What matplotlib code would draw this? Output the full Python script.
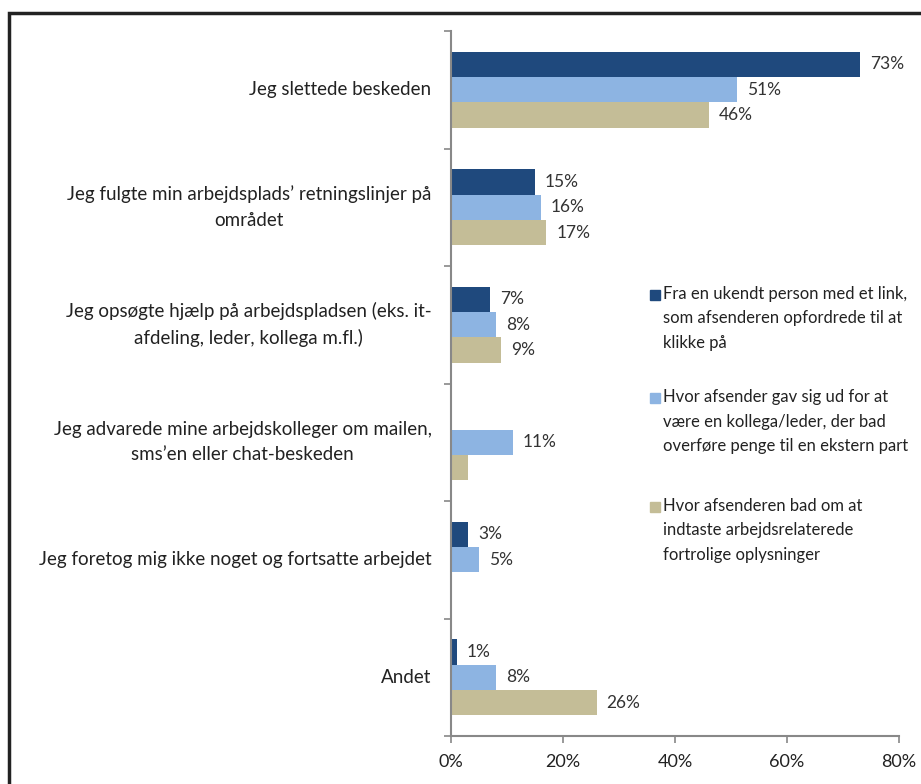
import numpy as np
import matplotlib.pyplot as plt
from matplotlib.patches import Rectangle

# Categories (top to bottom) and the three series in percent
categories = [
    "Jeg slettede beskeden",
    "Jeg fulgte min arbejdsplads\u2019 retningslinjer på\nområdet",
    "Jeg opsøgte hjælp på arbejdspladsen (eks. it-\nafdeling, leder, kollega m.fl.)",
    "Jeg advarede mine arbejdskolleger om mailen,\nsms\u2019en eller chat-beskeden",
    "Jeg foretog mig ikke noget og fortsatte arbejdet",
    "Andet",
]
series_names = [
    "Fra en ukendt person med et link,\nsom afsenderen opfordrede til at\nklikke på",
    "Hvor afsender gav sig ud for at\nvære en kollega/leder, der bad\noverføre penge til en ekstern part",
    "Hvor afsenderen bad om at\nindtaste arbejdsrelaterede\nfortrolige oplysninger",
]
link_vals = [73, 15, 7, 0, 3, 1]
leader_vals = [51, 16, 8, 11, 5, 8]
confidential_vals = [46, 17, 9, 3, 0, 26]
# which bars carry a value label
link_labels = [True, True, True, False, True, True]
leader_labels = [True, True, True, True, True, True]
confidential_labels = [True, True, True, False, False, True]

colors = ["#1F497D", "#8DB4E2", "#C4BD97"]
xticks = [0, 20, 40, 60, 80]

plt.rcParams['font.family'] = ['Lato', 'DejaVu Sans']

W, H = 921, 784
fig = plt.figure(figsize=(W / 100, H / 100), dpi=100)
ax = fig.add_axes([451 / W, 1 - 736 / H, 448 / W, 705 / H])

n = len(categories)
y = np.arange(n)
h = 0.217
all_vals = [link_vals, leader_vals, confidential_vals]
all_labels = [link_labels, leader_labels, confidential_labels]
for i, (vals, labs) in enumerate(zip(all_vals, all_labels)):
    pos = y + (i - 1) * h
    ax.barh(pos, vals, height=h, color=colors[i])
    for p, v, show in zip(pos, vals, labs):
        if show:
            ax.text(v + 1.8, p, f"{v}%", va='center', ha='left',
                    fontsize=12.5, color='#333333')

ax.set_ylim(n - 0.5, -0.5)
ax.set_xlim(0, 80)
ax.set_xticks(xticks)
ax.set_xticklabels([f"{t}%" for t in xticks], fontsize=13, color='#222222')
ax.set_yticks([])
ax.set_yticks(np.arange(n + 1) - 0.5, minor=True)
ax.tick_params(axis='y', which='minor', length=5, color='#888888', width=1.2)
ax.tick_params(axis='x', length=5, color='#888888', width=1.2, pad=8)

# category labels: right aligned block, lines centred within it
for yi, cat in zip(y, categories):
    ax.annotate(cat, xy=(0, yi), xycoords=('axes fraction', 'data'),
                xytext=(-14, 0), textcoords='offset points',
                ha='right', va='center', multialignment='center',
                fontsize=13.5, color='#222222', linespacing=1.6)

for s in ['top', 'right']:
    ax.spines[s].set_visible(False)
for s in ['left', 'bottom']:
    ax.spines[s].set_color('#888888')
    ax.spines[s].set_linewidth(1.5)

# legend: square marker beside the first line of each entry
legend_first = [295, 398, 507]
for name, c, ty in zip(series_names, colors, legend_first):
    fig.patches.append(Rectangle((650 / W, 1 - (ty + 5) / H), 10 / W, 10 / H,
                                 transform=fig.transFigure, color=c))
    fig.text(663 / W, 1 - (ty + 23.5) / H, name, ha='left', va='center',
             fontsize=12, color='#222222', linespacing=1.62)

# frame around the whole chart
fig.patches.append(Rectangle((9 / W, -0.05), 1.2, 1 - 13 / H + 0.05,
                             transform=fig.transFigure, fill=False,
                             edgecolor='#222222', linewidth=2.5))

fig.savefig("out.png", dpi=100)
